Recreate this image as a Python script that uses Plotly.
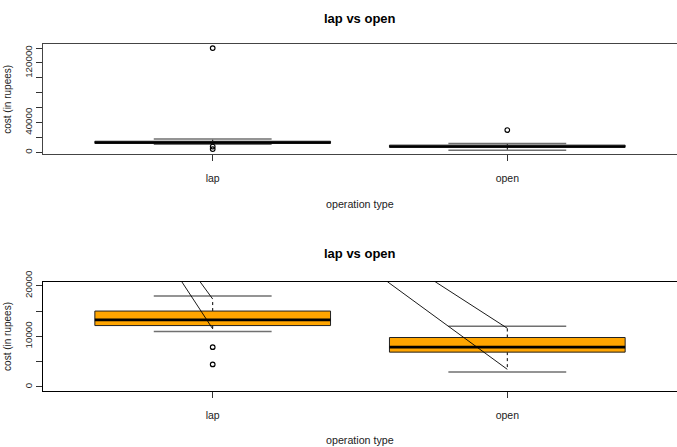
import plotly.graph_objects as go

# Summary statistics per operation type (cost in rupees)
categories = ["lap", "open"]
positions = [1, 2]
q1 = [12130, 6880]
medians = [13250, 7870]
q3 = [15000, 9770]
whisker_lo = [11480, 3480]
whisker_hi = [17380, 11600]
staple_lo = [10950, 2950]
staple_hi = [17970, 12000]
outlier_pos = [1, 1, 1, 2]
outlier_y = [140000, 7870, 4460, 30000]

# Connector segments entering the zoomed panel from above its frame
seg_x_top = [0.895, 0.957, 1.593, 1.755]
seg_y_top = [20800, 20800, 20800, 20800]
seg_x_end = [1, 1, 2, 2]
seg_y_end = [11480, 17380, 3480, 11600]

top_ticks = [0, 20000, 40000, 60000, 80000, 100000, 120000, 140000]
top_ticktext = ["0", "", "40000", "", "", "", "120000", ""]
bottom_ticks = [0, 5000, 10000, 15000, 20000]
bottom_ticktext = ["0", "", "10000", "", "20000"]
bottom_ylim = [0, 20000]

FONT = "Liberation Sans, Arial, sans-serif"
BOX_HALF = 0.4
STAPLE_HALF = 0.2


def padded(lo, hi, frac=0.04):
    r = hi - lo
    return [lo - frac * r, hi + frac * r]


def line(fig, xs, ys, xa, ya, color="black", width=1.0, dash=None):
    fig.add_trace(go.Scatter(
        x=xs, y=ys, mode="lines", xaxis=xa, yaxis=ya,
        line=dict(color=color, width=width, dash=dash),
        showlegend=False, hoverinfo="skip"))


def draw_panel(fig, xa, ya, fill, segments):
    for i, c in enumerate(positions):
        # dashed whiskers
        line(fig, [c, c], [q3[i], whisker_hi[i]], xa, ya, dash="3px,3px")
        line(fig, [c, c], [q1[i], whisker_lo[i]], xa, ya, dash="3px,3px")
        # staples
        for s in (staple_lo[i], staple_hi[i]):
            line(fig, [c - STAPLE_HALF, c + STAPLE_HALF], [s, s], xa, ya,
                 color="#707070", width=1.4)
        # box
        fig.add_trace(go.Scatter(
            x=[c - BOX_HALF, c + BOX_HALF, c + BOX_HALF, c - BOX_HALF, c - BOX_HALF],
            y=[q1[i], q1[i], q3[i], q3[i], q1[i]],
            mode="lines", fill="toself", fillcolor=fill,
            line=dict(color="#222222", width=1),
            xaxis=xa, yaxis=ya, showlegend=False, hoverinfo="skip"))
        # median
        line(fig, [c - BOX_HALF, c + BOX_HALF], [medians[i], medians[i]], xa, ya,
             width=2.6)
    if segments:
        for j in range(len(seg_x_top)):
            line(fig, [seg_x_top[j], seg_x_end[j]], [seg_y_top[j], seg_y_end[j]],
                 xa, ya, color="black", width=0.9)
    fig.add_trace(go.Scatter(
        x=outlier_pos, y=outlier_y, mode="markers", xaxis=xa, yaxis=ya,
        marker=dict(symbol="circle-open", size=4.6, color="black",
                    line=dict(width=1.2, color="black")),
        showlegend=False, hoverinfo="skip", cliponaxis=True))


fig = go.Figure()
draw_panel(fig, "x", "y", "white", segments=False)
draw_panel(fig, "x2", "y2", "#FFA500", segments=True)

W, H = 677, 447
ML, MR, MT, MB = 43, 0, 44, 56
PH = H - MT - MB
PW = W - ML - MR


def py(px):
    return (H - MB - px) / PH


def pxx(px):
    return (px - ML) / PW


top_range = padded(min(staple_lo + outlier_y), max(staple_hi + outlier_y))
bot_range = padded(*bottom_ylim)

xcommon = dict(
    tickmode="array", tickvals=positions, ticktext=categories,
    range=[0.424, 2.576], showgrid=False, zeroline=False,
    showline=True, mirror=True, linewidth=1,
    ticks="outside", ticklen=6, tickwidth=1, tickcolor="#333333",
    tickfont=dict(family=FONT, size=10.5, color="#222222"),
    ticklabelstandoff=8, fixedrange=True)

ycommon = dict(
    tickmode="array", showgrid=False, zeroline=False,
    showline=True, mirror=False, linewidth=1,
    ticks="outside", ticklen=6, tickwidth=1, tickcolor="#333333",
    tickangle=-90, ticklabelstandoff=0,
    tickfont=dict(family=FONT, size=9.8, color="#222222"), fixedrange=True)

top_dom = [py(154.3), 1.0]
bot_dom = [0.0, py(281.7)]

fig.update_layout(
    width=W, height=H,
    margin=dict(l=ML, r=MR, t=MT, b=MB, pad=0),
    paper_bgcolor="white", plot_bgcolor="white",
    xaxis=dict(xcommon, anchor="y", linecolor="#444444"),
    yaxis=dict(ycommon, domain=top_dom, range=top_range, anchor="x",
               tickvals=top_ticks, ticktext=top_ticktext, linecolor="#444444"),
    xaxis2=dict(xcommon, anchor="y2", linecolor="black"),
    yaxis2=dict(ycommon, domain=bot_dom, range=bot_range, anchor="x2",
                tickvals=bottom_ticks, ticktext=bottom_ticktext, linecolor="black"),
)

title_font = dict(family=FONT, size=13, color="black")
label_font = dict(family=FONT, size=10.7, color="#222222")
ylab_font = dict(family=FONT, size=10, color="#222222")

ann = []
for top_px, mid_px, xlab_px in ((18, 99.3, 204), (254, 336.4, 440)):
    ann.append(dict(text="<b>lap vs open</b>", x=pxx(360), y=py(top_px),
                    xref="paper", yref="paper", xanchor="center", yanchor="middle",
                    showarrow=False, font=title_font))
    ann.append(dict(text="operation type", x=pxx(360), y=py(xlab_px),
                    xref="paper", yref="paper", xanchor="center", yanchor="middle",
                    showarrow=False, font=label_font))
    ann.append(dict(text="cost (in rupees)", x=pxx(1), y=py(mid_px),
                    xref="paper", yref="paper", xanchor="left", yanchor="middle",
                    textangle=-90, showarrow=False, font=ylab_font,
                    borderpad=0))
fig.update_layout(annotations=ann)

fig.write_html("out.html")
